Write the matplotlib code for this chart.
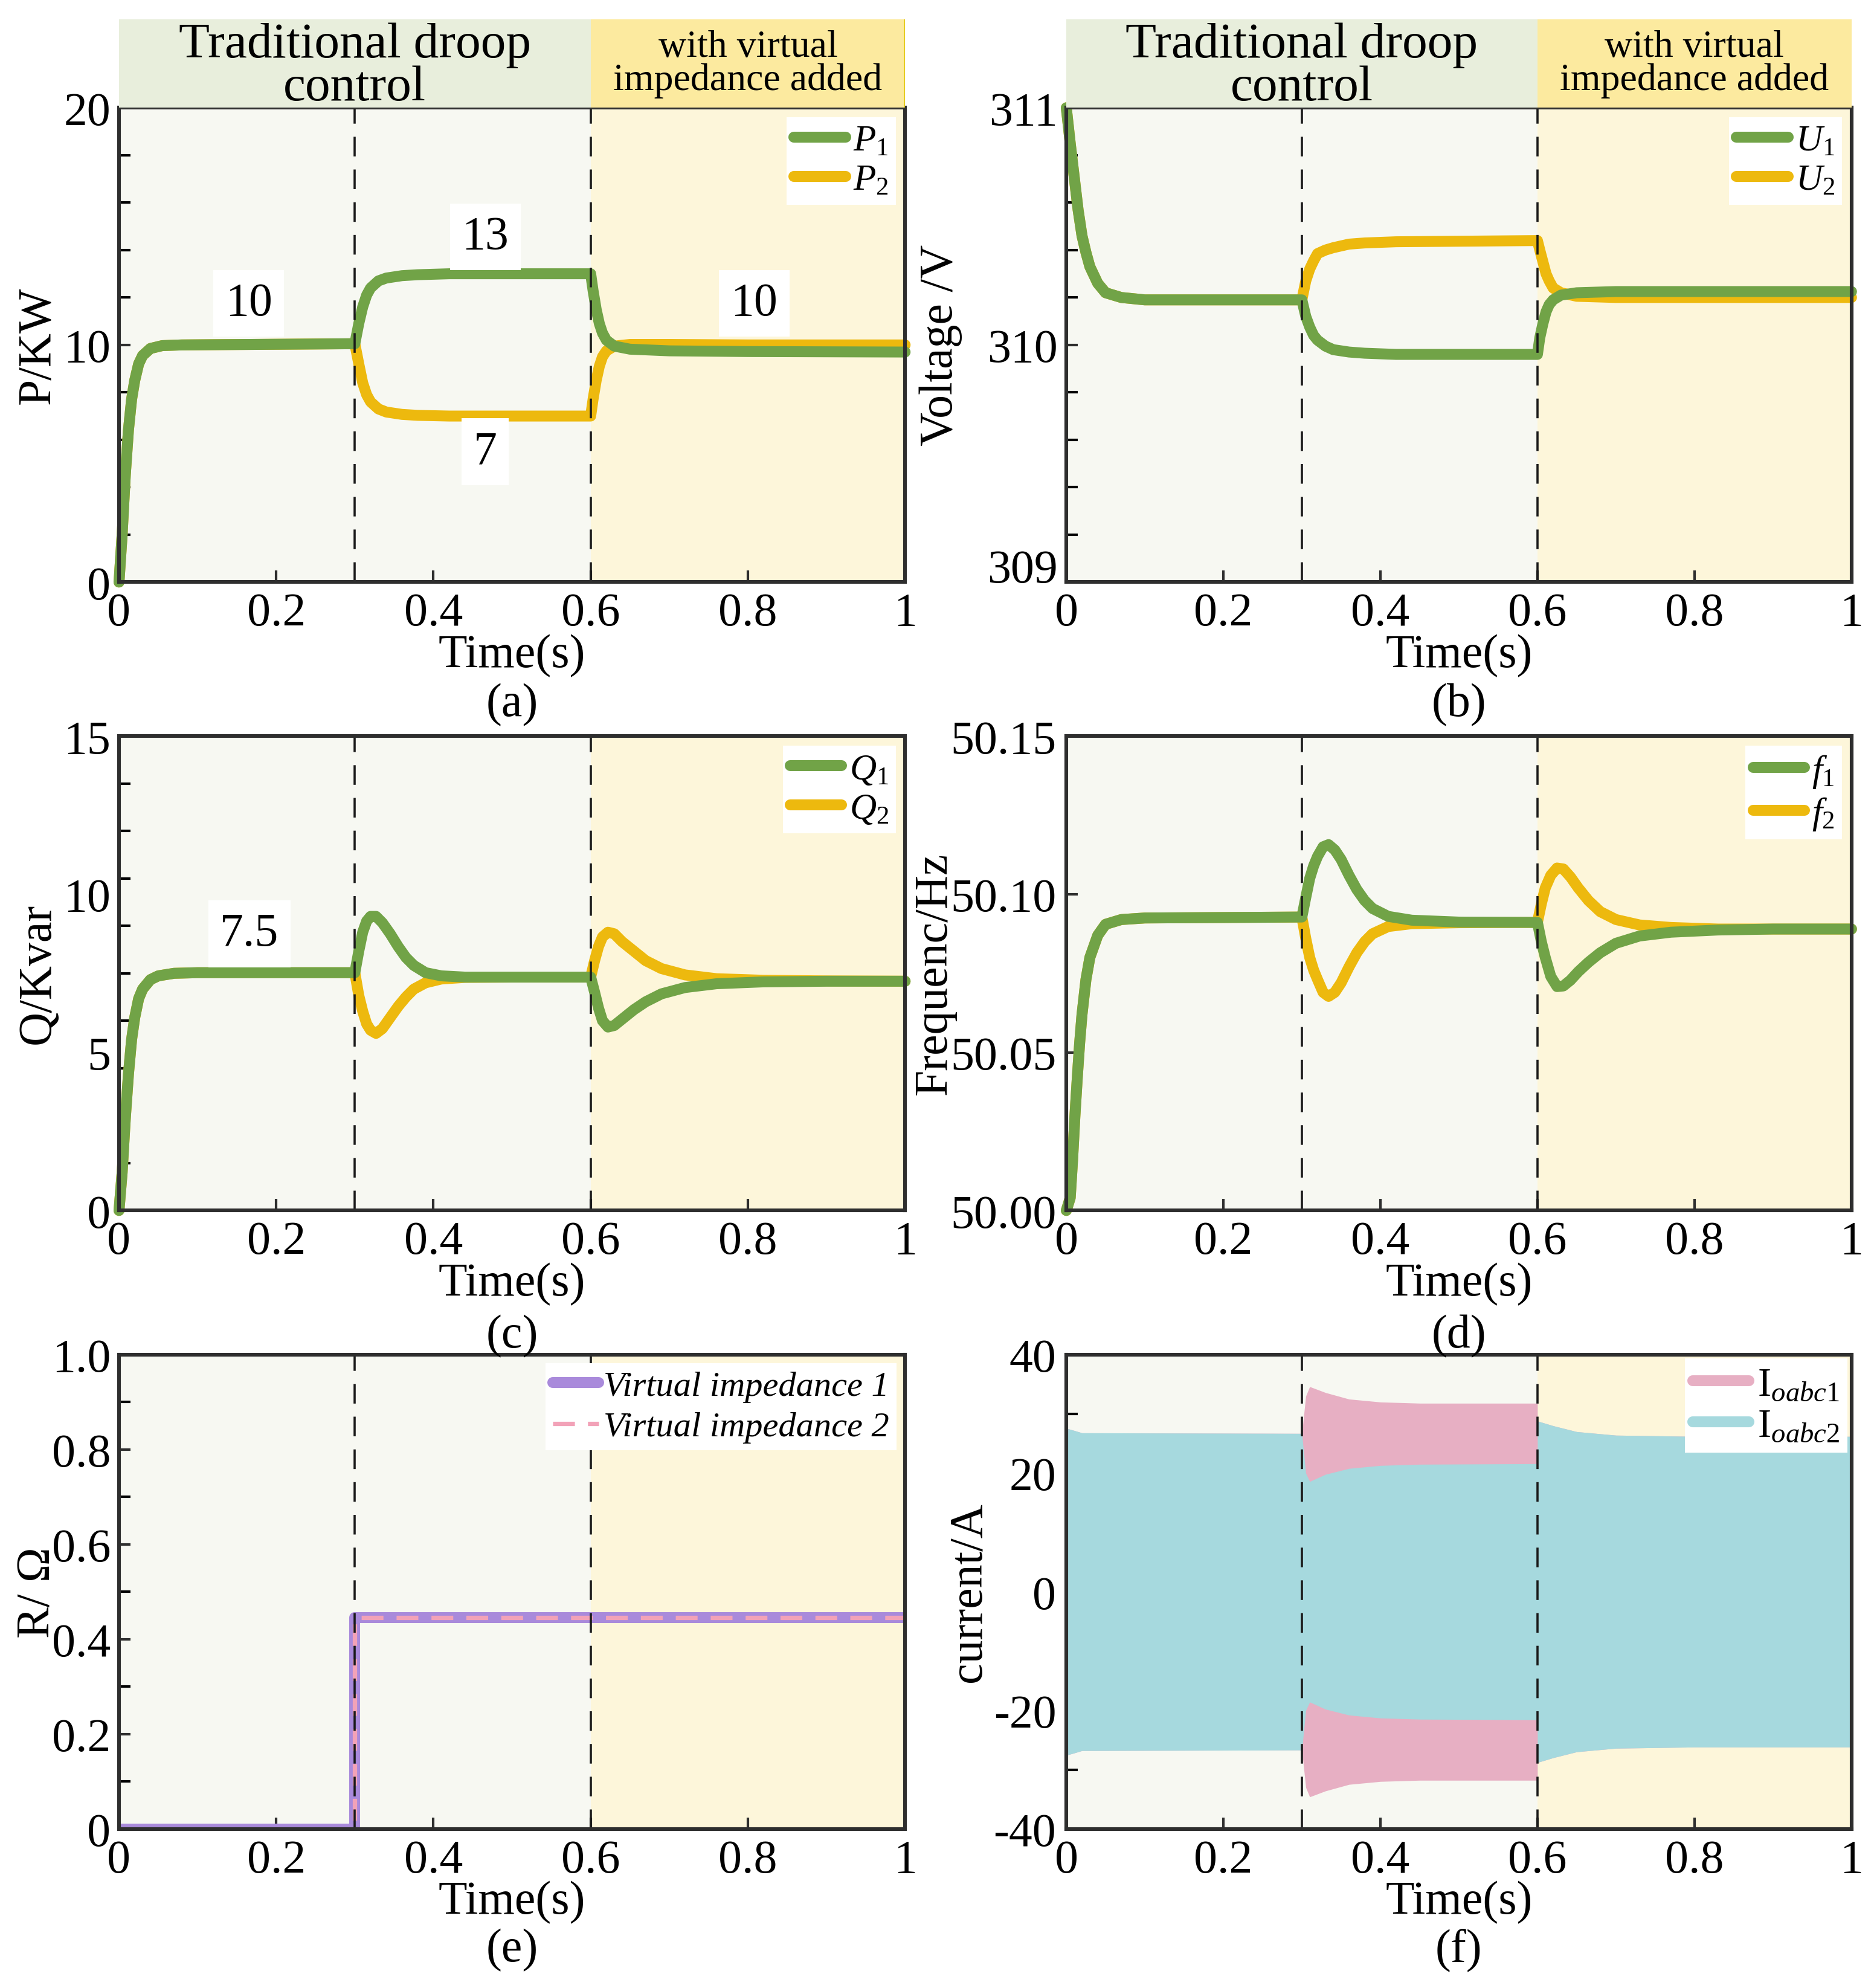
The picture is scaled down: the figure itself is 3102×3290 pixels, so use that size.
import matplotlib
matplotlib.use('Agg')
import matplotlib.pyplot as plt
from matplotlib.lines import Line2D

plt.rcParams['font.family'] = 'serif'
plt.rcParams['font.serif'] = ['Liberation Serif', 'DejaVu Serif']
plt.rcParams['mathtext.fontset'] = 'custom'
plt.rcParams['mathtext.rm'] = 'Liberation Serif'
plt.rcParams['mathtext.it'] = 'Liberation Serif:italic'

# ---------------- data ----------------
# (a) active power, kW
t_p = [0, 0.004, 0.008, 0.012, 0.016, 0.02, 0.025, 0.03, 0.04, 0.055, 0.08, 0.3,
       0.305, 0.31, 0.315, 0.32, 0.33, 0.34, 0.36, 0.38, 0.42, 0.6,
       0.603, 0.607, 0.611, 0.615, 0.62, 0.63, 0.65, 0.7, 0.8, 1.0]
p1 = [0, 2.0, 4.5, 6.4, 7.7, 8.5, 9.2, 9.55, 9.85, 9.97, 10.0, 10.05,
      10.9, 11.6, 12.1, 12.4, 12.7, 12.82, 12.92, 12.96, 13.0, 13.0,
      12.3, 11.5, 10.9, 10.5, 10.2, 9.95, 9.82, 9.75, 9.72, 9.7]
p2 = [0, 2.0, 4.5, 6.4, 7.7, 8.5, 9.2, 9.55, 9.85, 9.97, 10.0, 10.05,
      9.2, 8.4, 7.9, 7.6, 7.3, 7.17, 7.07, 7.03, 7.0, 7.0,
      7.7, 8.5, 9.1, 9.5, 9.75, 9.95, 10.02, 10.02, 10.0, 10.0]
p_notes = ['10', '13', '7', '10']
p_note_t = [0.165, 0.466, 0.466, 0.808]
p_note_v = [11.75, 14.55, 5.5, 11.75]

# (b) voltage, V
t_u = [0, 0.005, 0.01, 0.015, 0.02, 0.025, 0.03, 0.04, 0.05, 0.07, 0.1, 0.3,
       0.305, 0.31, 0.315, 0.32, 0.33, 0.34, 0.36, 0.38, 0.42, 0.6,
       0.603, 0.607, 0.611, 0.615, 0.62, 0.63, 0.65, 0.7, 0.8, 1.0]
u1 = [311.0, 310.85, 310.71, 310.57, 310.46, 310.39, 310.33, 310.26, 310.22, 310.2, 310.19, 310.19,
      310.12, 310.075, 310.04, 310.02, 309.995, 309.98, 309.97, 309.965, 309.96, 309.96,
      310.03, 310.09, 310.14, 310.17, 310.19, 310.21, 310.22, 310.225, 310.225, 310.225]
u2 = [311.0, 310.85, 310.71, 310.57, 310.46, 310.39, 310.33, 310.26, 310.22, 310.2, 310.19, 310.19,
      310.27, 310.32, 310.355, 310.385, 310.4, 310.41, 310.425, 310.43, 310.435, 310.44,
      310.4, 310.35, 310.3, 310.27, 310.24, 310.22, 310.205, 310.2, 310.2, 310.2]

# (c) reactive power, kvar
t_q = [0, 0.004, 0.008, 0.012, 0.016, 0.02, 0.025, 0.03, 0.04, 0.05, 0.07, 0.1, 0.3,
       0.305, 0.31, 0.315, 0.32, 0.327, 0.335, 0.345, 0.355, 0.365, 0.375, 0.39, 0.41, 0.44, 0.5, 0.6,
       0.605, 0.61, 0.615, 0.622, 0.63, 0.64, 0.655, 0.67, 0.69, 0.72, 0.76, 0.82, 0.9, 1.0]
q1 = [0, 1.2, 2.9, 4.3, 5.4, 6.1, 6.7, 7.0, 7.3, 7.42, 7.5, 7.52, 7.52,
      8.2, 8.8, 9.15, 9.3, 9.3, 9.1, 8.75, 8.35, 8.0, 7.75, 7.52, 7.42, 7.38, 7.38, 7.38,
      6.9, 6.4, 6.0, 5.8, 5.85, 6.05, 6.35, 6.6, 6.85, 7.05, 7.17, 7.23, 7.25, 7.25]
q2 = [0, 1.2, 2.9, 4.3, 5.4, 6.1, 6.7, 7.0, 7.3, 7.42, 7.5, 7.52, 7.52,
      6.8, 6.3, 5.9, 5.7, 5.6, 5.75, 6.1, 6.45, 6.75, 7.0, 7.2, 7.32, 7.37, 7.38, 7.38,
      7.9, 8.35, 8.65, 8.8, 8.75, 8.5, 8.2, 7.9, 7.65, 7.45, 7.33, 7.28, 7.26, 7.25]
q_notes = ['7.5']
q_note_t = [0.166]
q_note_v = [8.75]

# (d) frequency, Hz
t_f = [0, 0.005, 0.008, 0.011, 0.014, 0.017, 0.02, 0.025, 0.03, 0.04, 0.05, 0.07, 0.1, 0.3,
       0.305, 0.31, 0.315, 0.32, 0.327, 0.334, 0.342, 0.35, 0.36, 0.37, 0.38, 0.39, 0.41, 0.44, 0.5, 0.6,
       0.605, 0.61, 0.617, 0.625, 0.633, 0.642, 0.652, 0.665, 0.68, 0.7, 0.73, 0.77, 0.83, 0.9, 1.0]
f1 = [50.0, 50.004, 50.016, 50.03, 50.042, 50.053, 50.062, 50.073, 50.08, 50.087, 50.0905, 50.092, 50.0925, 50.0928,
      50.099, 50.105, 50.109, 50.112, 50.115, 50.1157, 50.114, 50.111, 50.106, 50.1015, 50.098, 50.0955, 50.093, 50.0918, 50.0912, 50.0911,
      50.085, 50.08, 50.074, 50.0708, 50.071, 50.0728, 50.0755, 50.0785, 50.0815, 50.0845, 50.0868, 50.088, 50.0887, 50.089, 50.089]
f2 = [50.0, 50.004, 50.016, 50.03, 50.042, 50.053, 50.062, 50.073, 50.08, 50.087, 50.0905, 50.092, 50.0925, 50.0928,
      50.086, 50.08, 50.076, 50.073, 50.069, 50.0677, 50.069, 50.072, 50.077, 50.0815, 50.085, 50.0875, 50.0898, 50.0907, 50.091, 50.0911,
      50.097, 50.102, 50.106, 50.1083, 50.108, 50.1055, 50.102, 50.098, 50.0945, 50.092, 50.0903, 50.0895, 50.089, 50.089, 50.089]

# (e) virtual resistance, ohm
t_r = [0, 0.3, 0.3, 1.0]
r1 = [0, 0, 0.445, 0.445]
r2 = [0, 0, 0.445, 0.445]

# (f) output current envelopes (peak amplitude), A
t_i1 = [0, 0.002, 0.01, 0.02, 0.3, 0.305, 0.31, 0.33, 0.36, 0.4, 0.45, 0.6,
        0.6, 0.62, 0.65, 0.7, 0.8, 1.0]
amp_i1 = [0, 27.5, 27.2, 26.8, 26.7, 33.0, 34.6, 33.6, 32.5, 32.0, 31.8, 31.8,
          28.8, 28.0, 27.0, 26.4, 26.2, 26.2]
t_i2 = [0, 0.002, 0.01, 0.02, 0.3, 0.305, 0.31, 0.33, 0.36, 0.4, 0.45, 0.6,
        0.6, 0.62, 0.65, 0.7, 0.8, 1.0]
amp_i2 = [0, 27.5, 27.2, 26.8, 26.7, 20.0, 18.6, 19.8, 20.8, 21.3, 21.5, 21.6,
          28.8, 28.0, 27.0, 26.4, 26.2, 26.2]

x_ticks = [0, 0.2, 0.4, 0.6, 0.8, 1]
x_ticklabels = ['0', '0.2', '0.4', '0.6', '0.8', '1']
events = [0.3, 0.6]

# ---------------- style ----------------
GREEN = '#71A347'
GOLD = '#EDB90E'
BG_L = '#F7F8F2'
BG_R = '#FDF6DA'
HEAD_L = '#E8EEDC'
HEAD_R = '#FCEA9F'
SPINE = '#2E2E2E'
LW = 6.5
FS = 28

fig = plt.figure(figsize=(15.51, 16.455), dpi=200)

XL, XR = 0.0635, 0.569
WL, WR = 0.4195, 0.419
ROWS = [0.707, 0.391, 0.080]
H = 0.2385


def base(ax, ylim, major, minor, labels, ylabel, lab_x, ypad=5):
    ax.set_xlim(0, 1)
    ax.set_ylim(*ylim)
    ax.axvspan(0, 0.6, color=BG_L, zorder=0, lw=0)
    ax.axvspan(0.6, 1, color=BG_R, zorder=0, lw=0)
    for e in events:
        ax.axvline(e, color='#1a1a1a', lw=1.3, dashes=(9, 6), zorder=4)
    ax.set_xticks(x_ticks)
    ax.set_xticklabels(x_ticklabels)
    ax.set_yticks(major)
    ax.set_yticklabels(labels)
    if minor is not None:
        ax.set_yticks(minor, minor=True)
    ax.tick_params(direction='in', labelsize=FS, length=7, width=1.5,
                   color=SPINE, top=False, right=False, pad=6)
    ax.tick_params(axis='y', which='both', direction='in', length=7, width=1.5, pad=ypad)
    for s in ax.spines.values():
        s.set_color(SPINE)
        s.set_linewidth(2.2)
        s.set_zorder(6)
    ax.set_xlabel('Time(s)', fontsize=FS, labelpad=-1)
    ax.set_ylabel(ylabel, fontsize=FS, va='center')
    ax.yaxis.set_label_coords(lab_x, 0.5)


def header(x0, w):
    hx = fig.add_axes([x0, ROWS[0] + H, w, 0.0445])
    hx.set_xlim(0, 1)
    hx.set_ylim(0, 1)
    hx.axvspan(0, 0.6, color=HEAD_L, lw=0)
    hx.axvspan(0.6, 1, color=HEAD_R, lw=0)
    hx.text(0.3, 0.47, 'Traditional droop\ncontrol', ha='center', va='center',
            fontsize=30, linespacing=0.92)
    hx.text(0.8, 0.5, 'with virtual\nimpedance added', ha='center', va='center',
            fontsize=23, linespacing=0.92)
    hx.axis('off')
    return hx


def white_legend(lg):
    lg.get_frame().set_facecolor('white')
    lg.get_frame().set_edgecolor('none')
    lg.get_frame().set_alpha(1)
    lg.set_zorder(7)


def legend2(ax, order, size=22):
    h, l = ax.get_legend_handles_labels()
    h = [h[i] for i in order]
    l = [l[i] for i in order]
    lg = ax.legend(h, l, loc='upper right', fontsize=size, handlelength=1.4,
                   handletextpad=0.2, labelspacing=0.15, borderpad=0.2,
                   borderaxespad=0.25, fancybox=False)
    white_legend(lg)


def curve(ax, t, y, color, label):
    ax.plot(t, y, color=color, lw=LW, solid_capstyle='round',
            solid_joinstyle='round', label=label, zorder=3, clip_on=False)


def note(ax, t, v, s):
    ax.text(t, v, s, ha='center', va='center', fontsize=FS, zorder=5,
            bbox=dict(boxstyle='square,pad=0.25', fc='white', ec='none'))


# (a)
ax = fig.add_axes([XL, ROWS[0], WL, H])
base(ax, (0, 20), [0, 10, 20], list(range(0, 21, 2)), ['0', '10', '20'], 'P/KW', -0.103)
curve(ax, t_p, p2, GOLD, r'$P_2$')
curve(ax, t_p, p1, GREEN, r'$P_1$')
for s, t, v in zip(p_notes, p_note_t, p_note_v):
    note(ax, t, v, s)
legend2(ax, [1, 0])
hx = header(XL, WL)
hx.axvline(1, color='#E0C400', lw=1.2)

# (b)
ax = fig.add_axes([XR, ROWS[0], WR, H])
base(ax, (309, 311), [309, 310, 311], [309 + 0.2 * k for k in range(11)],
     ['309', '310', '311'], 'Voltage /V', -0.16)
ax.get_yticklabels()[0].set_va('baseline')
curve(ax, t_u, u2, GOLD, r'$U_2$')
curve(ax, t_u, u1, GREEN, r'$U_1$')
legend2(ax, [1, 0])
header(XR, WR)

# (c)
ax = fig.add_axes([XL, ROWS[1], WL, H])
base(ax, (0, 15), [0, 5, 10, 15], [1.5 * k for k in range(11)],
     ['0', '5', '10', '15'], 'Q/Kvar', -0.103)
ax.tick_params(axis='y', which='major', length=0)
curve(ax, t_q, q2, GOLD, r'$Q_2$')
curve(ax, t_q, q1, GREEN, r'$Q_1$')
for s, t, v in zip(q_notes, q_note_t, q_note_v):
    note(ax, t, v, s)
legend2(ax, [1, 0])

# (d)
ax = fig.add_axes([XR, ROWS[1], WR, H])
base(ax, (50.0, 50.15), [50.0, 50.05, 50.10, 50.15], None,
     ['50.00', '50.05', '50.10', '50.15'], 'Frequenc/Hz', -0.168, ypad=6)
curve(ax, t_f, f2, GOLD, r'$f_2$')
curve(ax, t_f, f1, GREEN, r'$f_1$')
legend2(ax, [1, 0])

# (e)
ax = fig.add_axes([XL, ROWS[2], WL, H])
base(ax, (0, 1), [0, 0.2, 0.4, 0.6, 0.8, 1.0], [0.1 * k for k in range(11)],
     ['0', '0.2', '0.4', '0.6', '0.8', '1.0'], 'R/ Ω', -0.103)
ax.plot(t_r, r1, color='#A98ADB', lw=LW, solid_capstyle='round', zorder=3,
        label='Virtual impedance 1')
ax.plot(t_r, r2, color='#F2A2B8', lw=2.6, dashes=(5, 3), zorder=3.5,
        label='Virtual impedance 2')
lg = ax.legend(loc='upper right', handlelength=1.3, handletextpad=0.15,
               labelspacing=0.25, borderpad=0.2, borderaxespad=0.25, fancybox=False,
               prop={'family': 'serif', 'style': 'italic', 'size': 21})
white_legend(lg)

# (f)
ax = fig.add_axes([XR, ROWS[2], WR, H])
base(ax, (-40, 40), [-40, -20, 0, 20, 40], list(range(-40, 41, 10)),
     ['-40', '-20', '0', '20', '40'], 'current/A', -0.124, ypad=6)
ax.fill_between(t_i1, [-a for a in amp_i1], amp_i1, color='#E7AFC3', lw=0, zorder=2)
ax.fill_between(t_i2, [-a for a in amp_i2], amp_i2, color='#A6D9DE', lw=0, zorder=2.5)
hf = [Line2D([], [], color='#E7AFC3', lw=LW, solid_capstyle='round'),
      Line2D([], [], color='#A6D9DE', lw=LW, solid_capstyle='round')]
lg = ax.legend(hf, [r'$\mathrm{I}_{oabc\mathrm{1}}$', r'$\mathrm{I}_{oabc\mathrm{2}}$'],
               loc='upper right', fontsize=24, handlelength=1.4, handletextpad=0.2,
               labelspacing=0.1, borderpad=0.2, borderaxespad=0.1, fancybox=False)
white_legend(lg)

# panel letters
for s, x, y in [('(a)', XL + WL / 2, 0.6455), ('(b)', XR + WR / 2, 0.6455),
                ('(c)', XL + WL / 2, 0.328), ('(d)', XR + WR / 2, 0.328),
                ('(e)', XL + WL / 2, 0.0192), ('(f)', XR + WR / 2, 0.0192)]:
    fig.text(x, y, s, ha='center', va='center', fontsize=FS)

fig.savefig('out.png', dpi=200, facecolor='white')
